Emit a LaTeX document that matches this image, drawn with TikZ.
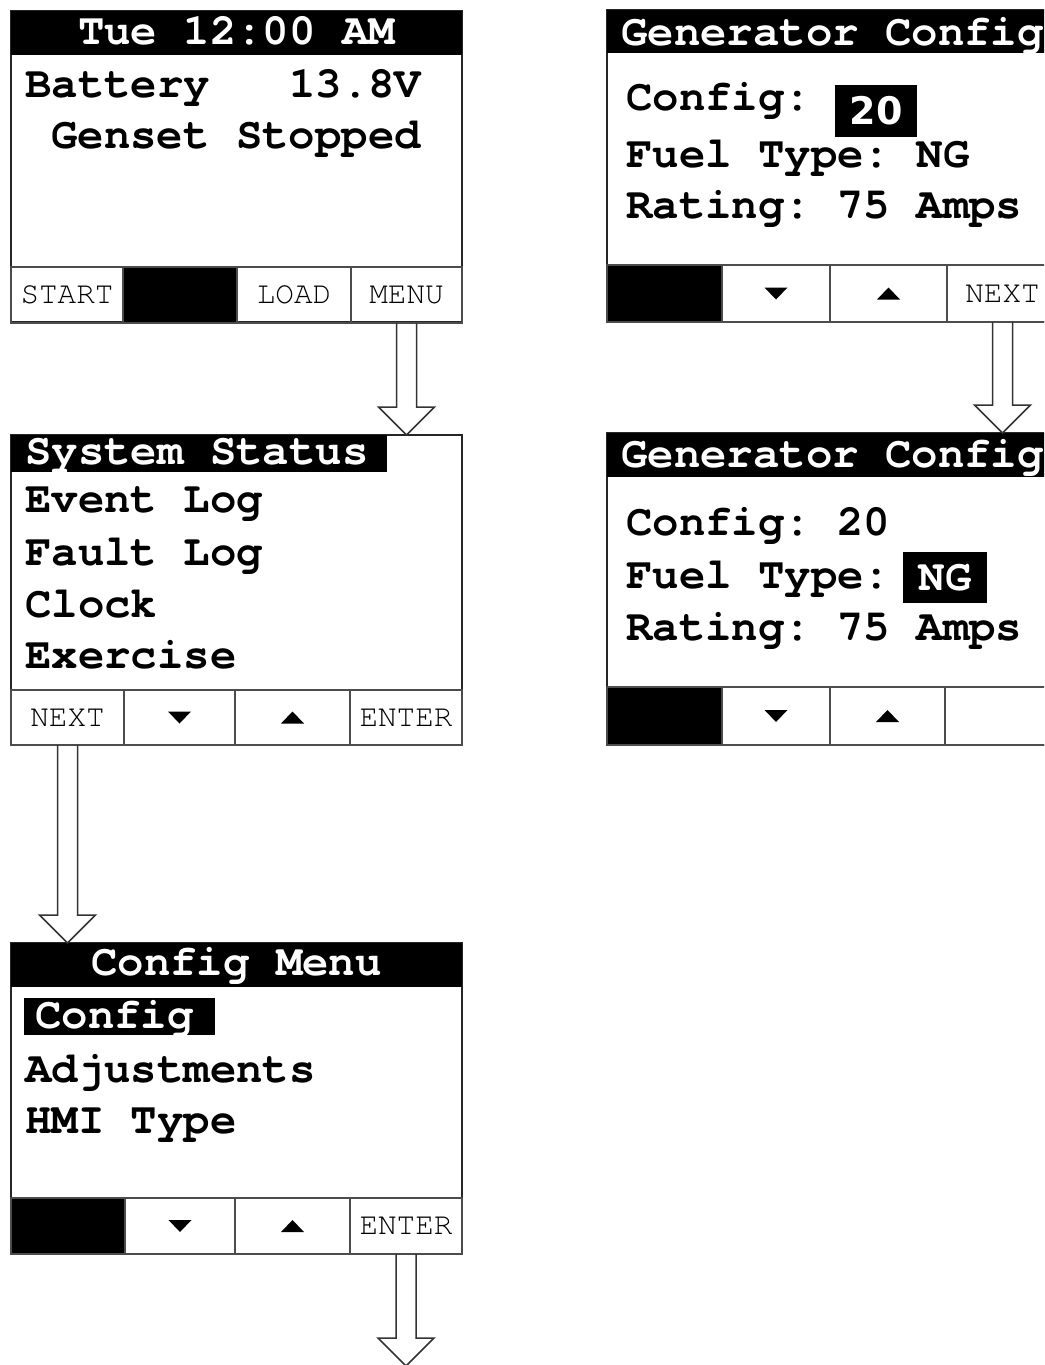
\documentclass[tikz,border=0pt]{standalone}
\usepackage{fontspec}
\usepackage{tikz}
\usetikzlibrary{calc}

\newfontfamily\lcdfont[Ligatures=NoCommon]{TeX Gyre Cursor}
\newfontfamily\digitfont{DejaVu Sans}
\newcommand{\bodyfont}{\lcdfont\bfseries\fontsize{44}{44}\selectfont}
\newcommand{\keyfont}{\lcdfont\fontsize{31}{31}\selectfont}
\newcommand{\numfont}{\digitfont\bfseries\fontsize{38}{38}\selectfont}
\frenchspacing

% arrow keys drawn on a soft key
\newcommand{\downkey}[1]{\fill (#1.center) ++(-11.5,-6) -- ++(23,0) -- ++(-11.5,12) -- cycle;}
\newcommand{\upkey}[1]{\fill (#1.center) ++(-11.5,6) -- ++(23,0) -- ++(-11.5,-12) -- cycle;}

% hollow block arrow from a key down to the next screen
\newcommand{\blockarrow}[2]{%
  \draw[line width=1.5pt, black!80] let \p1=(#1), \p2=(#2) in
    (\x1-10pt,\y1) -- (\x1-10pt,\y2+28pt) -- (\x1-28pt,\y2+28pt) -- (\x1,\y2)
    -- (\x1+28pt,\y2+28pt) -- (\x1+10pt,\y2+28pt) -- (\x1+10pt,\y1);}

\begin{document}
\begin{tikzpicture}[x=1pt, y=-1pt,
    lcdscreen/.style={draw=black!85, line width=2pt, fill=white, anchor=north west, inner sep=0pt, outer sep=0pt, minimum width=451pt, minimum height=311pt},
    lcdbar/.style={fill=black, anchor=north west, inner sep=0pt, outer sep=0pt, minimum width=451pt, minimum height=44pt},
    lcdkey/.style={draw=black!70, line width=1.2pt, anchor=north west, inner sep=0pt, outer sep=0pt, minimum height=56pt, font=\keyfont},
    lcdtext/.style={anchor=base west, inner sep=0pt, font=\bodyfont},
    lcdtitle/.style={anchor=base, inner sep=0pt, text=white, font=\bodyfont},
    hilite/.style={fill=black, anchor=north west, inner sep=0pt, outer sep=0pt, text=white}]

    \clip (0,0) rectangle (1044,1365);

    % Home screen
    \node[lcdscreen] (home) at (11,11) {};
    \node[lcdbar] (homeBar) at (11,11) {};
    \node[lcdtitle] (homeTitle) at (236.5,44) {Tue 12:00 AM};
    \node[lcdtext] (homeBatt) at (25,97) {Battery\ \ \ 13.8V};
    \node[lcdtext] (homeGen) at (51,148) {Genset Stopped};
    \node[lcdkey, minimum width=112pt] (homeK1) at (11,267) {START};
    \node[lcdkey, minimum width=114pt, fill=black] (homeK2) at (123,267) {};
    \node[lcdkey, minimum width=114pt] (homeK3) at (237,267) {LOAD};
    \node[lcdkey, minimum width=111pt] (homeK4) at (351,267) {MENU};

    % System status menu
    \node[lcdscreen, minimum height=310pt] (status) at (11,435) {};
    \node[hilite, minimum width=376pt, minimum height=37pt] (statusBar) at (11,435) {};
    \node[lcdtext, text=white] (statusTitle) at (25,464) {System Status};
    \node[lcdtext] (statusEvt) at (25,512) {Event Log};
    \node[lcdtext] (statusFlt) at (25,565) {Fault Log};
    \node[lcdtext] (statusClk) at (25,617) {Clock};
    \node[lcdtext] (statusExe) at (25,668) {Exercise};
    \node[lcdkey, minimum width=113pt, minimum height=55pt] (statusK1) at (11,690) {NEXT};
    \node[lcdkey, minimum width=111pt, minimum height=55pt] (statusK2) at (124,690) {};
    \node[lcdkey, minimum width=115pt, minimum height=55pt] (statusK3) at (235,690) {};
    \node[lcdkey, minimum width=112pt, minimum height=55pt] (statusK4) at (350,690) {ENTER};
    \downkey{statusK2}
    \upkey{statusK3}

    % Config menu
    \node[lcdscreen] (cfgmenu) at (11,943) {};
    \node[lcdbar] (cfgBar) at (11,943) {};
    \node[lcdtitle] (cfgTitle) at (236.5,975) {Config Menu};
    \node[hilite, minimum width=191pt, minimum height=37pt] (cfgSel) at (24,998) {};
    \node[lcdtext, text=white] (cfgItem1) at (35,1028) {Config};
    \node[lcdtext] (cfgItem2) at (25,1082) {Adjustments};
    \node[lcdtext] (cfgItem3) at (25,1133) {HMI Type};
    \node[lcdkey, minimum width=114pt, fill=black] (cfgK1) at (11,1198) {};
    \node[lcdkey, minimum width=110pt] (cfgK2) at (125,1198) {};
    \node[lcdkey, minimum width=115pt] (cfgK3) at (235,1198) {};
    \node[lcdkey, minimum width=112pt] (cfgK4) at (350,1198) {ENTER};
    \downkey{cfgK2}
    \upkey{cfgK3}

    % Generator config, config number selected
    \node[lcdscreen, minimum height=312pt] (genA) at (607,10) {};
    \node[lcdbar, minimum height=43pt] (genABar) at (607,10) {};
    \node[lcdtitle] (genATitle) at (832.5,45) {Generator Config};
    \node[lcdtext] (genACfg) at (626,110) {Config:};
    \node[hilite, minimum width=82pt, minimum height=52pt, font=\numfont] (genAVal) at (835,85) {20};
    \node[lcdtext] (genAFuel) at (626,167) {Fuel Type: NG};
    \node[lcdtext] (genARate) at (626,218) {Rating: 75 Amps};
    \node[lcdkey, minimum width=115pt, minimum height=57pt, fill=black] (genAK1) at (607,265) {};
    \node[lcdkey, minimum width=108pt, minimum height=57pt] (genAK2) at (722,265) {};
    \node[lcdkey, minimum width=117pt, minimum height=57pt] (genAK3) at (830,265) {};
    \node[lcdkey, minimum width=111pt, minimum height=57pt] (genAK4) at (947,265) {NEXT};
    \downkey{genAK2}
    \upkey{genAK3}

    % Generator config, fuel type selected
    \node[lcdscreen, minimum height=312pt] (genB) at (607,433) {};
    \node[lcdbar] (genBBar) at (607,433) {};
    \node[lcdtitle] (genBTitle) at (832.5,467) {Generator Config};
    \node[lcdtext] (genBCfg) at (626,535) {Config: 20};
    \node[lcdtext] (genBFuel) at (626,588) {Fuel Type:};
    \node[hilite, minimum width=84pt, minimum height=51pt, font=\bodyfont] (genBVal) at (903,552) {NG};
    \node[lcdtext] (genBRate) at (626,640) {Rating: 75 Amps};
    \node[lcdkey, minimum width=115pt, minimum height=58pt, fill=black] (genBK1) at (607,687) {};
    \node[lcdkey, minimum width=108pt, minimum height=58pt] (genBK2) at (722,687) {};
    \node[lcdkey, minimum width=115pt, minimum height=58pt] (genBK3) at (830,687) {};
    \node[lcdkey, minimum width=113pt, minimum height=58pt] (genBK4) at (945,687) {};
    \downkey{genBK2}
    \upkey{genBK3}

    % Draw the arrows between screens
    \coordinate (cfgOut) at (406,1366);
    \blockarrow{homeK4.south}{status.north}
    \blockarrow{genAK4.south}{genB.north}
    \blockarrow{statusK1.south}{cfgmenu.north}
    \blockarrow{cfgK4.south}{cfgOut}
\end{tikzpicture}
\end{document}
